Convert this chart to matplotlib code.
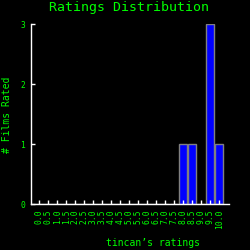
import matplotlib
matplotlib.use("Agg")
import matplotlib.pyplot as plt

ratings = [f"{i * 0.5:.1f}" for i in range(21)]
counts = [0] * 21
counts[16] = 1  # 8.0
counts[17] = 1  # 8.5
counts[19] = 3  # 9.5
counts[20] = 1  # 10.0

green = "#00ff00"
font = "DejaVu Sans Mono"

fig = plt.figure(figsize=(2.5, 2.5), dpi=100, facecolor="black")
ax = fig.add_axes([0.122, 0.184, 0.794, 0.72])
ax.set_facecolor("black")

x = list(range(len(ratings)))
ax.bar(x, counts, width=0.95, color="#0000ff", edgecolor="#808080", linewidth=1)

ax.set_xlim(-1, 21.1)
ax.set_ylim(0, 3)
ax.set_xticks(x)
ax.set_xticklabels(ratings, rotation=90, family=font, fontsize=5.8, color=green)
ax.set_yticks([0, 1, 2, 3])
ax.set_yticklabels(["0", "1", "2", "3"], family=font, fontsize=5.8, color=green)
ax.tick_params(axis="both", direction="in", length=3, width=1, colors="white", pad=4)
for lab in ax.get_xticklabels() + ax.get_yticklabels():
    lab.set_color(green)

for side in ("top", "right"):
    ax.spines[side].set_visible(False)
for side in ("left", "bottom"):
    ax.spines[side].set_color("white")
    ax.spines[side].set_linewidth(1)

fig.text(0.516, 0.968, "Ratings Distribution", ha="center", va="center",
         family=font, fontsize=9.5, color=green)
fig.text(0.03, 0.54, "# Films Rated", ha="center", va="center", rotation=90,
         family=font, fontsize=7, color=green)
fig.text(0.61, 0.028, "tincan\u2019s ratings", ha="center", va="center",
         family=font, fontsize=7, color=green)

fig.savefig("out.png", dpi=100, facecolor="black")
